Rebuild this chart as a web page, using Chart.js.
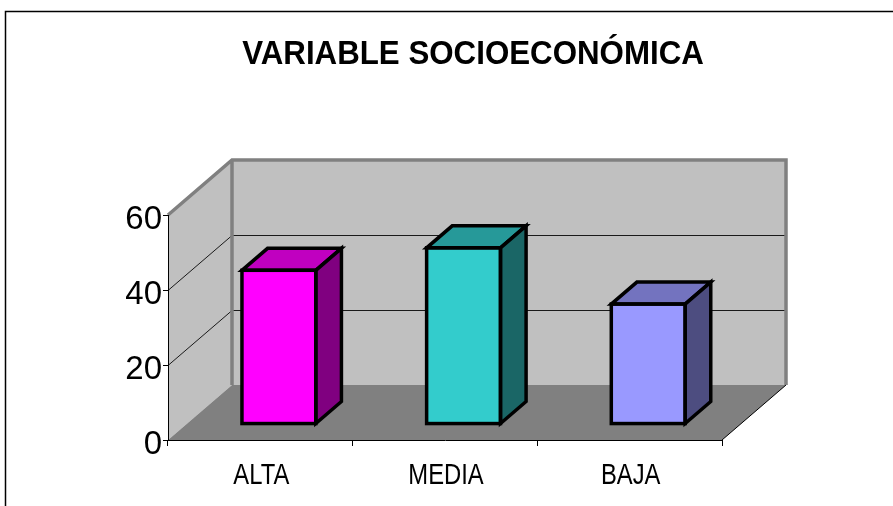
<!DOCTYPE html>
<html>
<head>
<meta charset="utf-8">
<script src="https://cdn.jsdelivr.net/npm/chart.js@4.4.1/dist/chart.umd.min.js"></script>
<style>
  body { margin: 0; background: #fff; }
  canvas { display: block; }
</style>
</head>
<body>
<canvas id="socio-chart" width="893" height="506"></canvas>
<script>
// data
let chartTitle = 'VARIABLE SOCIOECONÓMICA'
let categories = ['ALTA', 'MEDIA', 'BAJA']
let values = [41, 47, 32]
let yMax = 60
let yStep = 20

// face colours: front, top (shaded), side (darker)
let frontColors = ['#FF00FF', '#33CCCC', '#9999FF']
let topColors = ['#C000C0', '#269999', '#7373BF']
let sideColors = ['#800080', '#1A6666', '#4D4D80']

// 3d box depth of the plot (pixels) and where bars sit in it
let depthX = 64
let depthY = -55
let barFront = 0.29
let barDepth = 0.4

let font = '"Liberation Sans", Arial, sans-serif'

// draws the walls, floor, frame and the text that needs squeezing
let walls3d = {
    id: 'walls3d',
    beforeDraw(chart) {
        let ctx = chart.ctx
        let x = chart.scales.x
        let y = chart.scales.y
        let L = x.left, R = x.right
        let top = y.getPixelForValue(yMax), bot = y.getPixelForValue(0)
        ctx.save()

        // outer frame
        ctx.strokeStyle = '#000'
        ctx.lineWidth = 1.5
        ctx.beginPath()
        ctx.moveTo(5.5, 520)
        ctx.lineTo(5.5, 11.5)
        ctx.lineTo(900, 11.5)
        ctx.stroke()

        // back wall
        ctx.fillStyle = '#C0C0C0'
        ctx.fillRect(L + depthX, top + depthY, R - L, bot - top)
        // left wall
        ctx.beginPath()
        ctx.moveTo(L, top)
        ctx.lineTo(L + depthX, top + depthY)
        ctx.lineTo(L + depthX, bot + depthY)
        ctx.lineTo(L, bot)
        ctx.closePath()
        ctx.fill()
        // floor
        ctx.fillStyle = '#808080'
        ctx.beginPath()
        ctx.moveTo(L, bot)
        ctx.lineTo(R, bot)
        ctx.lineTo(R + depthX, bot + depthY)
        ctx.lineTo(L + depthX, bot + depthY)
        ctx.closePath()
        ctx.fill()

        // gridlines on both walls
        ctx.strokeStyle = '#1a1a1a'
        ctx.lineWidth = 1
        for (let v = yStep; v < yMax; v += yStep) {
            let fy = y.getPixelForValue(v) + 0.5
            ctx.beginPath()
            ctx.moveTo(L, fy)
            ctx.lineTo(L + depthX, fy + depthY)
            ctx.lineTo(R + depthX, fy + depthY)
            ctx.stroke()
        }

        // wall edges
        ctx.strokeStyle = '#808080'
        ctx.lineWidth = 3.5
        ctx.beginPath()
        ctx.moveTo(L, top)
        ctx.lineTo(L + depthX, top + depthY)
        ctx.lineTo(R + depthX, top + depthY)
        ctx.lineTo(R + depthX, bot + depthY)
        ctx.moveTo(L + depthX, top + depthY)
        ctx.lineTo(L + depthX, bot + depthY)
        ctx.stroke()

        // floor right edge
        ctx.strokeStyle = '#000'
        ctx.lineWidth = 1
        ctx.beginPath()
        ctx.moveTo(R, bot)
        ctx.lineTo(R + depthX, bot + depthY)
        ctx.stroke()

        // title
        ctx.fillStyle = '#000'
        ctx.font = 'bold 34px ' + font
        ctx.textAlign = 'center'
        ctx.textBaseline = 'alphabetic'
        ctx.save()
        ctx.translate(473, 64)
        ctx.scale(0.92, 1)
        ctx.fillText(chartTitle, 0, 0)
        ctx.restore()

        // category labels (narrow, like the original)
        ctx.font = '29px ' + font
        for (let i = 0; i < categories.length; i++) {
            ctx.save()
            ctx.translate(x.getPixelForValue(i) + 1, 484)
            ctx.scale(0.82, 1)
            ctx.fillText(categories[i], 0, 0)
            ctx.restore()
        }
        ctx.restore()
    },
    beforeDatasetsDraw(chart) {
        chart.ctx.save()
        chart.ctx.translate(barFront * depthX, barFront * depthY)
    },
    afterDatasetsDraw(chart) {
        let ctx = chart.ctx
        ctx.restore()
        let ox = barFront * depthX, oy = barFront * depthY
        let bdx = barDepth * depthX, bdy = barDepth * depthY
        let bars = chart.getDatasetMeta(0).data
        ctx.save()
        ctx.strokeStyle = '#000'
        ctx.lineWidth = 3.5
        ctx.lineJoin = 'miter'
        bars.forEach((bar, i) => {
            let p = bar.getProps(['x', 'y', 'base', 'width'], true)
            let x0 = p.x - p.width / 2 + ox, x1 = p.x + p.width / 2 + ox
            let yt = p.y + oy, yb = p.base + oy
            // top
            ctx.fillStyle = topColors[i]
            ctx.beginPath()
            ctx.moveTo(x0, yt)
            ctx.lineTo(x1, yt)
            ctx.lineTo(x1 + bdx, yt + bdy)
            ctx.lineTo(x0 + bdx, yt + bdy)
            ctx.closePath()
            ctx.fill()
            ctx.stroke()
            // side
            ctx.fillStyle = sideColors[i]
            ctx.beginPath()
            ctx.moveTo(x1, yt)
            ctx.lineTo(x1 + bdx, yt + bdy)
            ctx.lineTo(x1 + bdx, yb + bdy)
            ctx.lineTo(x1, yb)
            ctx.closePath()
            ctx.fill()
            ctx.stroke()
            // front outline
            ctx.strokeRect(x0, yt, x1 - x0, yb - yt)
        })
        ctx.restore()
    }
}

let ctx = document.querySelector('#socio-chart').getContext('2d')

let chart = new Chart(ctx, {
    type: 'bar',
    data: {
        labels: categories,
        datasets: [{
            data: values,
            backgroundColor: frontColors,
            borderWidth: 0,
            categoryPercentage: 1,
            barPercentage: 0.4
        }]
    },
    options: {
        responsive: false,
        animation: false,
        layout: { padding: { left: 0, top: 215, right: 171, bottom: 0 } },
        plugins: {
            legend: { display: false },
            title: { display: false },
            tooltip: { enabled: false }
        },
        scales: {
            x: {
                offset: true,
                grid: { offset: true, drawOnChartArea: false, color: '#000', tickLength: 6 },
                border: { color: '#000', width: 1 },
                ticks: { display: false },
                afterFit(scale) { scale.height = 66 }
            },
            y: {
                min: 0,
                max: yMax,
                ticks: {
                    stepSize: yStep,
                    color: '#000',
                    font: { family: font, size: 33 },
                    padding: 1,
                    labelOffset: 5
                },
                grid: { drawOnChartArea: false, color: '#000', tickLength: 5 },
                border: { color: '#000', width: 1 },
                afterFit(scale) { scale.width = 168 }
            }
        }
    },
    plugins: [walls3d]
})
</script>
</body>
</html>
